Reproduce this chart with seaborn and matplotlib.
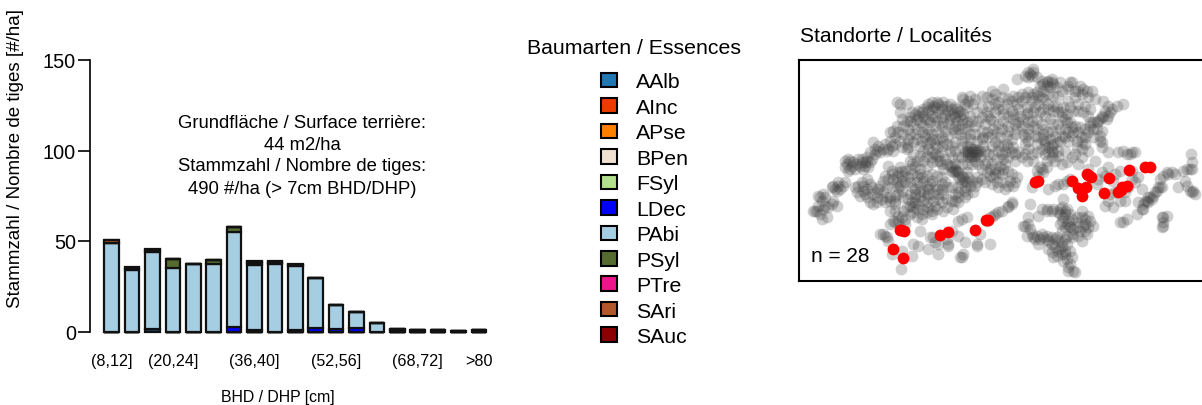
import pandas as pd
import seaborn as sns
import matplotlib.pyplot as plt
from matplotlib.patches import Patch

sns.set_style('white')
plt.rcParams['font.family'] = ['Liberation Sans', 'DejaVu Sans']
plt.rcParams['text.color'] = 'black'

# Durchmesserklassen
klassen = ['(8,12]', '(12,16]', '(16,20]', '(20,24]', '(24,28]', '(28,32]', '(32,36]',
           '(36,40]', '(40,44]', '(44,48]', '(48,52]', '(52,56]', '(56,60]', '(60,64]',
           '(64,68]', '(68,72]', '(72,76]', '(76,80]', '>80']
klassen_label = ['(8,12]', '(20,24]', '(36,40]', '(52,56]', '(68,72]', '>80']

arten = ['AAlb', 'AInc', 'APse', 'BPen', 'FSyl', 'LDec', 'PAbi', 'PSyl', 'PTre', 'SAri', 'SAuc']
farben = ['#1f78b4', '#f03b00', '#ff7f00', '#f0e0cf', '#b2df8a', '#0000ff', '#a6cee3',
          '#556b2f', '#f0148c', '#b15928', '#8b0000']

# Stammzahl je Klasse
AAlb = [0, 0, 1.5, 0, 0, 0, 0, 0, 0, 0, 0, 0, 0, 0, 0, 0, 0, 0, 0]
AInc = [0, 0, 0, 0, 0, 0, 0, 0, 0, 0, 0, 0, 0, 0, 0, 0, 0, 0, 0]
APse = [0, 0, 0, 0, 0, 0, 0, 0, 0, 0, 0, 0, 0, 0, 0, 0, 0, 0, 0]
BPen = [0, 0, 0, 0, 0, 0, 0, 0, 0, 0, 0, 0, 0, 0, 0, 0, 0, 0, 0]
FSyl = [0, 0, 0, 0, 0, 0, 0, 0, 0, 0, 0, 0, 0, 0, 0, 0, 0, 0, 0]
LDec = [0, 0, 0, 0, 0, 0, 2.5, 0.8, 0, 1, 2, 1.5, 2, 0, 0, 0, 0, 0, 0]
PAbi = [49, 34, 42.3, 35, 37.2, 37.2, 52.5, 36.2, 37.5, 35, 27.3, 13, 8.7, 4.8, 1, 0.6, 0.6, 0.3, 0.6]
PSyl = [0, 0.8, 1, 5, 0, 2.5, 2.5, 0.6, 0.4, 0.5, 0, 0, 0, 0, 0.5, 0, 0, 0, 0]
PTre = [0, 0, 0, 0, 0, 0, 0, 0, 0, 0, 0, 0, 0, 0, 0, 0, 0, 0, 0]
SAri = [1.5, 0, 0, 0, 0, 0, 0, 0.6, 0.4, 0.5, 0, 0, 0, 0, 0, 0, 0, 0, 0]
SAuc = [0, 0.9, 0.7, 0, 0, 0, 0, 0.6, 0.4, 0.4, 0.2, 0, 0, 0, 0, 0.4, 0.4, 0.2, 0.4]
stamm = [AAlb, AInc, APse, BPen, FSyl, LDec, PAbi, PSyl, PTre, SAri, SAuc]

# Standorte, Kartenkoordinaten
grau = [(715,45),(700,55),(690,65),(710,65),(725,70),(665,75),(740,80),(770,75),(775,90),(755,85),
        (765,100),(735,95),(825,85),(820,105),(855,95),(875,110),(860,120),(890,110),(800,110),(790,125),
        (715,120),(700,115),(730,125),(745,135),(760,150),(775,155),(790,175),(805,160),(820,140),(840,130),
        (850,150),(870,155),(885,165),(925,140),(940,155),(965,155),(985,150),(940,185),(915,195),(885,205),
        (905,205),(925,190),(800,190),(815,205),(830,220),(850,235),(870,250),(920,230),(915,260),(920,280),
        (740,210),(790,210),(625,105),(590,110),(560,125),(525,125),(500,130),(655,125),(640,135),(620,130),
        (680,120),(665,150),(655,180),(675,185),(695,180),(710,200),(725,195),(625,165),(600,150),(580,155),
        (560,160),(535,150),(515,160),(495,170),(505,135),(590,135),(600,175),(625,180),(620,225),(640,230),
        (665,225),(650,255),(690,250),(700,240),(720,245),(745,240),(760,235),(780,245),(800,245),(820,260),
        (860,265),(870,270),(690,270),(700,285),(725,270),(750,260),(760,280),(775,295),(770,310),(750,300),
        (740,285),(790,290),(810,290),(840,300),(815,325),(830,310),(800,330),(900,320),(940,295),(860,310),
        (305,145),(315,150),(335,150),(315,175),(320,195),(350,175),(370,170),(385,165),(410,145),(425,145),
        (445,145),(465,150),(480,160),(490,175),(420,160),(440,165),(460,170),(475,180),(400,170),(385,185),
        (365,195),(345,200),(325,215),(305,215),(295,230),(300,250),(285,260),(270,270),(250,275),(235,265),
        (240,285),(225,295),(215,310),(190,315),(165,320),(170,335),(155,330),(160,350),(200,325),(210,335),
        (225,325),(255,295),(280,285),(295,290),(335,285),(345,240),(365,225),(385,215),(405,205),(425,200),
        (445,205),(465,195),(485,200),(500,195),(515,205),(530,200),(550,200),(570,210),(585,195),(510,225),
        (525,240),(495,240),(475,225),(450,230),(430,235),(410,240),(390,250),(375,275),(405,265),(425,280),
        (440,295),(465,290),(480,265),(500,260),(520,290),(530,295),(545,295),(540,305),(520,305),(555,310),
        (570,330),(585,345),(600,345),(620,300),(630,295),(610,290),(580,300),(575,320),(550,330),(545,260),
        (580,250),(600,265),(630,330),(640,310),(660,320),(680,310),(695,320),(715,320),(280,335),(310,355),
        (320,350),(290,360),(270,365),(340,280),(345,320),(360,335),(375,345),(395,335),(410,325),(435,320),
        (445,345),(470,340),(485,350),(500,365),(510,380),(490,370),(475,355),(480,345),(515,355),(545,370),
        (595,370),(605,385),(625,385),(640,395),(660,385),(630,405),(590,390),(570,385),(540,395),(510,400),
        (110,400),(130,395),(150,385),(125,410),(85,420),(75,430),(65,470),(85,465),(110,450),(125,455),
        (80,495),(95,490),(55,470),(190,395),(205,410),(195,425),(215,430),(235,450),(250,405),(265,415),
        (285,440),(300,450),(295,375),(320,365),(225,390),(345,385),(365,385),(385,380),(410,380),(420,395),
        (400,405),(440,405),(430,420),(415,440),(395,445),(375,430),(360,430),(345,455),(355,475),(380,480),
        (410,480),(445,470),(475,465),(490,430),(515,420),(535,415),(350,445),(325,470),(320,490),(300,505),
        (315,520),(330,510),(375,530),(265,540),(275,550),(290,600),(355,570),(320,590),(350,605),(318,645),
        (650,450),(640,460),(620,470),(600,480),(585,490),(515,490),(490,500),(470,530),(490,545),(460,570),
        (415,550),(400,585),(430,600),(500,610),(505,600),(545,575),(585,570),(430,570),(510,565),(555,540),
        (370,575),(740,345),(755,340),(730,365),(710,400),(760,405),(790,390),(805,390),(825,375),(850,330),
        (880,345),(930,365),(940,340),(975,350),(985,290),(1005,300),(1020,295),(970,295),(1030,370),(1020,385),
        (1040,405),(1000,400),(955,380),(905,390),(945,420),(930,455),(955,460),(990,440),(975,505),(995,495),
        (1025,480),(1045,465),(1060,445),(1075,425),(1085,410),(1100,400),(1050,440),(1115,355),(1130,355),(1095,375),
        (1170,380),(1150,400),(1185,410),(1200,420),(1165,350),(1190,345),(1187,300),(1190,325),(1105,490),(1105,505),
        (1100,520),(1115,485),(705,450),(740,465),(755,465),(775,465),(805,435),(800,460),(810,480),(800,500),
        (815,510),(825,520),(860,470),(880,485),(885,500),(895,515),(700,490),(730,485),(690,515),(695,545),
        (715,550),(735,555),(755,555),(770,550),(790,560),(810,555),(830,550),(850,545),(870,530),(845,520),
        (730,570),(770,570),(800,575),(790,590),(810,590),(825,590),(775,610),(810,600),(830,610),(825,630),
        (820,650),(840,655),(685,515),(860,560),(875,540),(805,620)]
grau_dicht = [(400,150),(415,155),(430,150),(455,155),(470,165),(485,165),(440,155),(410,165),(395,160),(380,175),
        (360,180),(345,190),(370,185),(390,195),(410,185),(430,175),(450,180),(465,185),(480,190),(495,185),
        (420,190),(440,190),(400,195),(375,205),(355,210),(335,200),(340,225),(360,240),(380,235),(400,225),
        (420,215),(440,215),(460,210),(480,215),(500,210),(520,215),(540,215),(560,190),(575,175),(545,175),
        (525,185),(505,180),(480,235),(460,245),(440,250),(425,255),(410,255),(395,270),(385,290),(410,295),
        (430,305),(450,315),(470,310),(500,280),(515,275),(540,285),(555,290),(570,290),(525,280),(510,295),
        (525,310),(540,320),(560,345),(575,355),(590,330),(605,315),(625,315),(615,335),(595,300),(515,290),
        (525,300),(535,290),(545,300),(530,285),(520,298),(540,295),(530,305),(548,288),(150,320),(160,315),
        (175,325),(185,330),(195,335),(205,345),(215,320),(230,315),(245,290),(265,285),(275,290),(240,300),
        (180,345),(165,345),(150,340),(220,340),(200,315),(210,325),(480,350),(490,355),(495,375),(505,370),
        (470,350),(465,335),(480,330),(515,385),(500,385),(520,370),(525,395),(510,410),(490,415),(290,350),
        (305,365),(315,340),(330,350),(345,345),(320,380),(115,395),(120,405),(135,405),(145,395),(130,385),
        (70,425),(80,440),(90,455),(70,455),(60,470),(75,480),(100,460),(115,440),(90,430),(205,395),
        (215,405),(230,420),(245,430),(260,435),(270,445),(285,430),(300,425),(320,410),(310,400),(350,400),
        (360,405),(375,395),(395,395),(405,390),(425,405),(400,420),(385,440),(370,450),(355,460),(365,465),
        (385,465),(400,460),(420,455),(410,470),(430,435),(440,390),(385,410),(380,370),(345,420),(490,445),
        (480,440),(510,430),(700,70),(705,60),(715,55),(760,80),(770,85),(745,90),(755,95),(850,110),
        (865,105),(820,95),(830,85),(710,130),(725,115),(740,130),(760,165),(775,170),(785,160),(800,175),
        (810,195),(825,205),(840,215),(835,235),(855,220),(870,225),(885,215),(895,205),(910,200),(920,185),
        (935,195),(945,175),(915,245),(920,265),(860,250),(845,260),(785,265),(770,275),(760,295),(750,270),
        (745,255),(730,250),(700,260),(685,240),(765,255),(775,270),(795,260),(810,250),(830,245),(790,305),
        (770,290),(655,195),(640,185),(650,170),(670,165),(685,195),(700,205),(715,215),(725,225),(745,225),
        (770,230),(600,120),(610,145),(635,150),(650,140),(690,130),(710,140),(730,150),(745,165),(575,130),
        (540,135),(520,140),(510,150),(610,165),(580,185),(595,200),(610,210),(625,200),(640,215),(660,240),
        (635,245),(615,250),(595,225),(720,555),(745,550),(760,560),(785,550),(800,565),(815,545),(835,540),
        (855,530),(865,515),(850,505),(845,490),(870,495),(810,470),(795,480),(805,490),(820,500),(810,520),
        (800,530),(815,570),(795,585),(780,580),(800,600),(815,615),(820,640),(835,650),(755,470),(770,470),
        (640,455),(650,445),(575,500),(595,485),(610,475),(500,495),(420,565),(405,550),(455,555),(460,575),
        (495,610),(545,570),(1065,430),(1055,440),(1045,450),(1080,415),(1095,400),(1100,490),(1105,515),(1010,295),
        (995,300),(1120,360),(1175,345),(1195,410),(1185,345),(985,505),(745,355),(1040,465),(255,540),(270,545),
        (280,560),(310,500),(295,500),(285,510)]
grau_rest = [(230,400),(245,415),(255,395),(265,380),(280,375),(290,395),(305,385),(315,395),(330,385),(340,370),
        (350,360),(365,365),(375,360),(395,365),(410,360),(425,365),(440,370),(450,385),(455,400),(445,420),
        (455,435),(440,445),(425,465),(395,475),(380,495),(365,490),(345,480),(335,460),(360,445),(375,415),
        (360,420),(340,435),(300,440),(275,430),(245,445),(225,445),(210,420),(185,415),(180,400),(200,385),
        (215,375),(300,470),(310,485),(330,495),(285,470),(275,400),(310,420),(325,430),(395,425),(415,420),
        (470,400),(480,420),(490,400),(470,440),(455,460),(285,235),(310,235),(325,240),(340,255),(355,265),
        (335,270),(315,260),(300,270),(290,275),(320,280),(365,255),(380,260),(395,240),(400,285),(420,300),
        (440,275),(455,270),(470,275),(445,260),(420,270),(375,305),(355,300),(385,320),(410,310),(425,320),
        (440,330),(455,330),(395,305),(365,320),(350,330),(480,290),(490,310),(500,330),(515,330),(530,330),
        (500,310),(560,230),(575,235),(590,240),(605,235),(560,255),(565,275),(590,275),(610,270),(625,275),
        (640,280),(650,295),(635,270),(655,280),(670,295),(660,300),(610,355),(625,345),(640,350),(650,360),
        (665,370),(600,360),(585,365),(560,375),(545,385),(530,380),(610,400),(645,380),(620,360),(655,395),
        (565,250),(540,240),(525,255),(510,250),(490,225),(720,160),(735,175),(750,185),(765,195),(775,210),
        (795,225),(810,225),(820,235),(715,175),(695,160),(680,140),(670,130),(700,175),(850,170),(865,175),
        (880,185),(835,170),(825,160),(815,180),(895,225),(905,225),(880,235),(895,250),(845,280),(860,285),
        (880,290),(780,320),(755,320),(700,225),(680,215),(670,205),(660,210),(725,295),(710,300),(690,300),
        (880,130),(900,135),(840,110),(785,100),(795,85),(745,110),(760,120),(775,125),(930,170),(950,165),
        (735,340),(725,350),(780,395),(815,380),(910,375),(920,355),(960,360),(1010,375),(1010,350),(960,415),
        (975,440),(990,415),(940,440),(1140,360),(1105,365),(1175,395),(1190,415),(1060,430),(1030,445),(1090,400),
        (1070,435),(790,475),(795,465),(815,465),(825,480),(830,495),(825,515),(835,525),(795,510),(780,555),
        (755,545),(740,540),(725,545),(710,540),(705,525),(700,510),(870,510),(880,520),(860,490),(760,585),
        (770,595),(785,605)]
rot = [(721,385),(729,382),(830,380),(848,403),(872,398),(860,426),(875,360),(880,362),(888,368),(943,373),
       (1002,347),(927,417),(970,415),(978,408),(980,400),(995,395),(1050,338),(1065,339),(573,498),(578,497),
       (541,528),(460,533),(434,542),(314,527),(318,528),(326,531),(293,585),(325,611)]

breite, hoehe = 1202, 406
fig = plt.figure(figsize=(breite / 100, hoehe / 100), dpi=100)


def achse(x0, y0, x1, y1):
    # Achse in Bildpunkten der Vorlage
    return fig.add_axes([x0 / breite, 1 - y1 / hoehe, (x1 - x0) / breite, (y1 - y0) / hoehe])


# Balken
ax = achse(90, 61, 500, 332.5)
zeilen = []
for art, werte in zip(arten, stamm):
    for i, w in enumerate(werte):
        zeilen.append({'klasse': i, 'art': art, 'n': w})
df = pd.DataFrame(zeilen)

sns.histplot(data=df, x='klasse', weights='n', hue='art', hue_order=arten[::-1],
             palette=dict(zip(arten, farben)), multiple='stack', discrete=True, shrink=0.72,
             edgecolor='#111111', linewidth=1.6, alpha=1, legend=False, ax=ax, clip_on=False)
ax.set_xlim((90 - 111.7) / 20.4, (500 - 111.7) / 20.4)
ax.set_ylim(0, 150)
ax.set_yticks([0, 50, 100, 150])
ax.tick_params(axis='y', left=True, length=9, width=1.2, labelsize=14.3, pad=1, color='black', labelcolor='black')
ax.set_xticks([klassen.index(k) for k in klassen_label])
ax.set_xticklabels(klassen_label, fontsize=11.6, color='black')
ax.tick_params(axis='x', bottom=False, pad=12)
ax.set_xlabel('')
ax.set_ylabel('')
sns.despine(ax=ax, bottom=True)
ax.spines['left'].set_linewidth(1.2)
ax.spines['left'].set_color('black')
ax.patch.set_alpha(0)

fig.text(16 / breite, 1 - 158 / hoehe, 'Stammzahl / Nombre de tiges [#/ha]', rotation=90,
         ha='center', va='center', fontsize=13.5)
fig.text(278 / breite, 1 - 398 / hoehe, 'BHD / DHP [cm]', ha='center', va='center', fontsize=11.4)
info = ['Grundfläche / Surface terrière:', '44 m2/ha', 'Stammzahl / Nombre de tiges:',
        '490 #/ha (> 7cm BHD/DHP)']
for zeile, y in zip(info, [124, 146, 167, 190]):
    fig.text(302 / breite, 1 - y / hoehe, zeile, ha='center', va='center', fontsize=13.3)

# Legende
griffe = [Patch(facecolor=f, edgecolor='black', linewidth=1.5) for f in farben]
fig.text(634 / breite, 1 - 49 / hoehe, 'Baumarten / Essences', ha='center', va='center', fontsize=15.3)
fig.legend(griffe, arten, loc='upper left', bbox_to_anchor=(601 / breite, 1 - 73.5 / hoehe),
           frameon=False, fontsize=15.3, handlelength=0.75, handleheight=0.68, handletextpad=0.9,
           labelspacing=0.304, borderpad=0, borderaxespad=0)

# Karte
karte = achse(799, 61, 1202, 282)
g = pd.DataFrame(grau + grau_dicht + grau_rest, columns=['x', 'y'])
r = pd.DataFrame(rot, columns=['x', 'y'])
sns.scatterplot(data=g, x='x', y='y', color='#404040', alpha=0.25, s=72, linewidth=0, ax=karte)
sns.scatterplot(data=r, x='x', y='y', color='#ff0000', s=72, linewidth=0, ax=karte)
karte.set_xlim(12, 1221)
karte.set_ylim(681, 18)
karte.set_xticks([])
karte.set_yticks([])
karte.set_xlabel('')
karte.set_ylabel('')
for s in ['left', 'top', 'bottom']:
    karte.spines[s].set_linewidth(1.5)
    karte.spines[s].set_color('black')
karte.spines['right'].set_visible(False)
fig.text(800 / breite, 1 - 36.5 / hoehe, 'Standorte / Localités', ha='left', va='center', fontsize=15.1)
fig.text(811 / breite, 1 - 257 / hoehe, 'n = 28', ha='left', va='center', fontsize=15)

plt.savefig('out.png', dpi=100)
